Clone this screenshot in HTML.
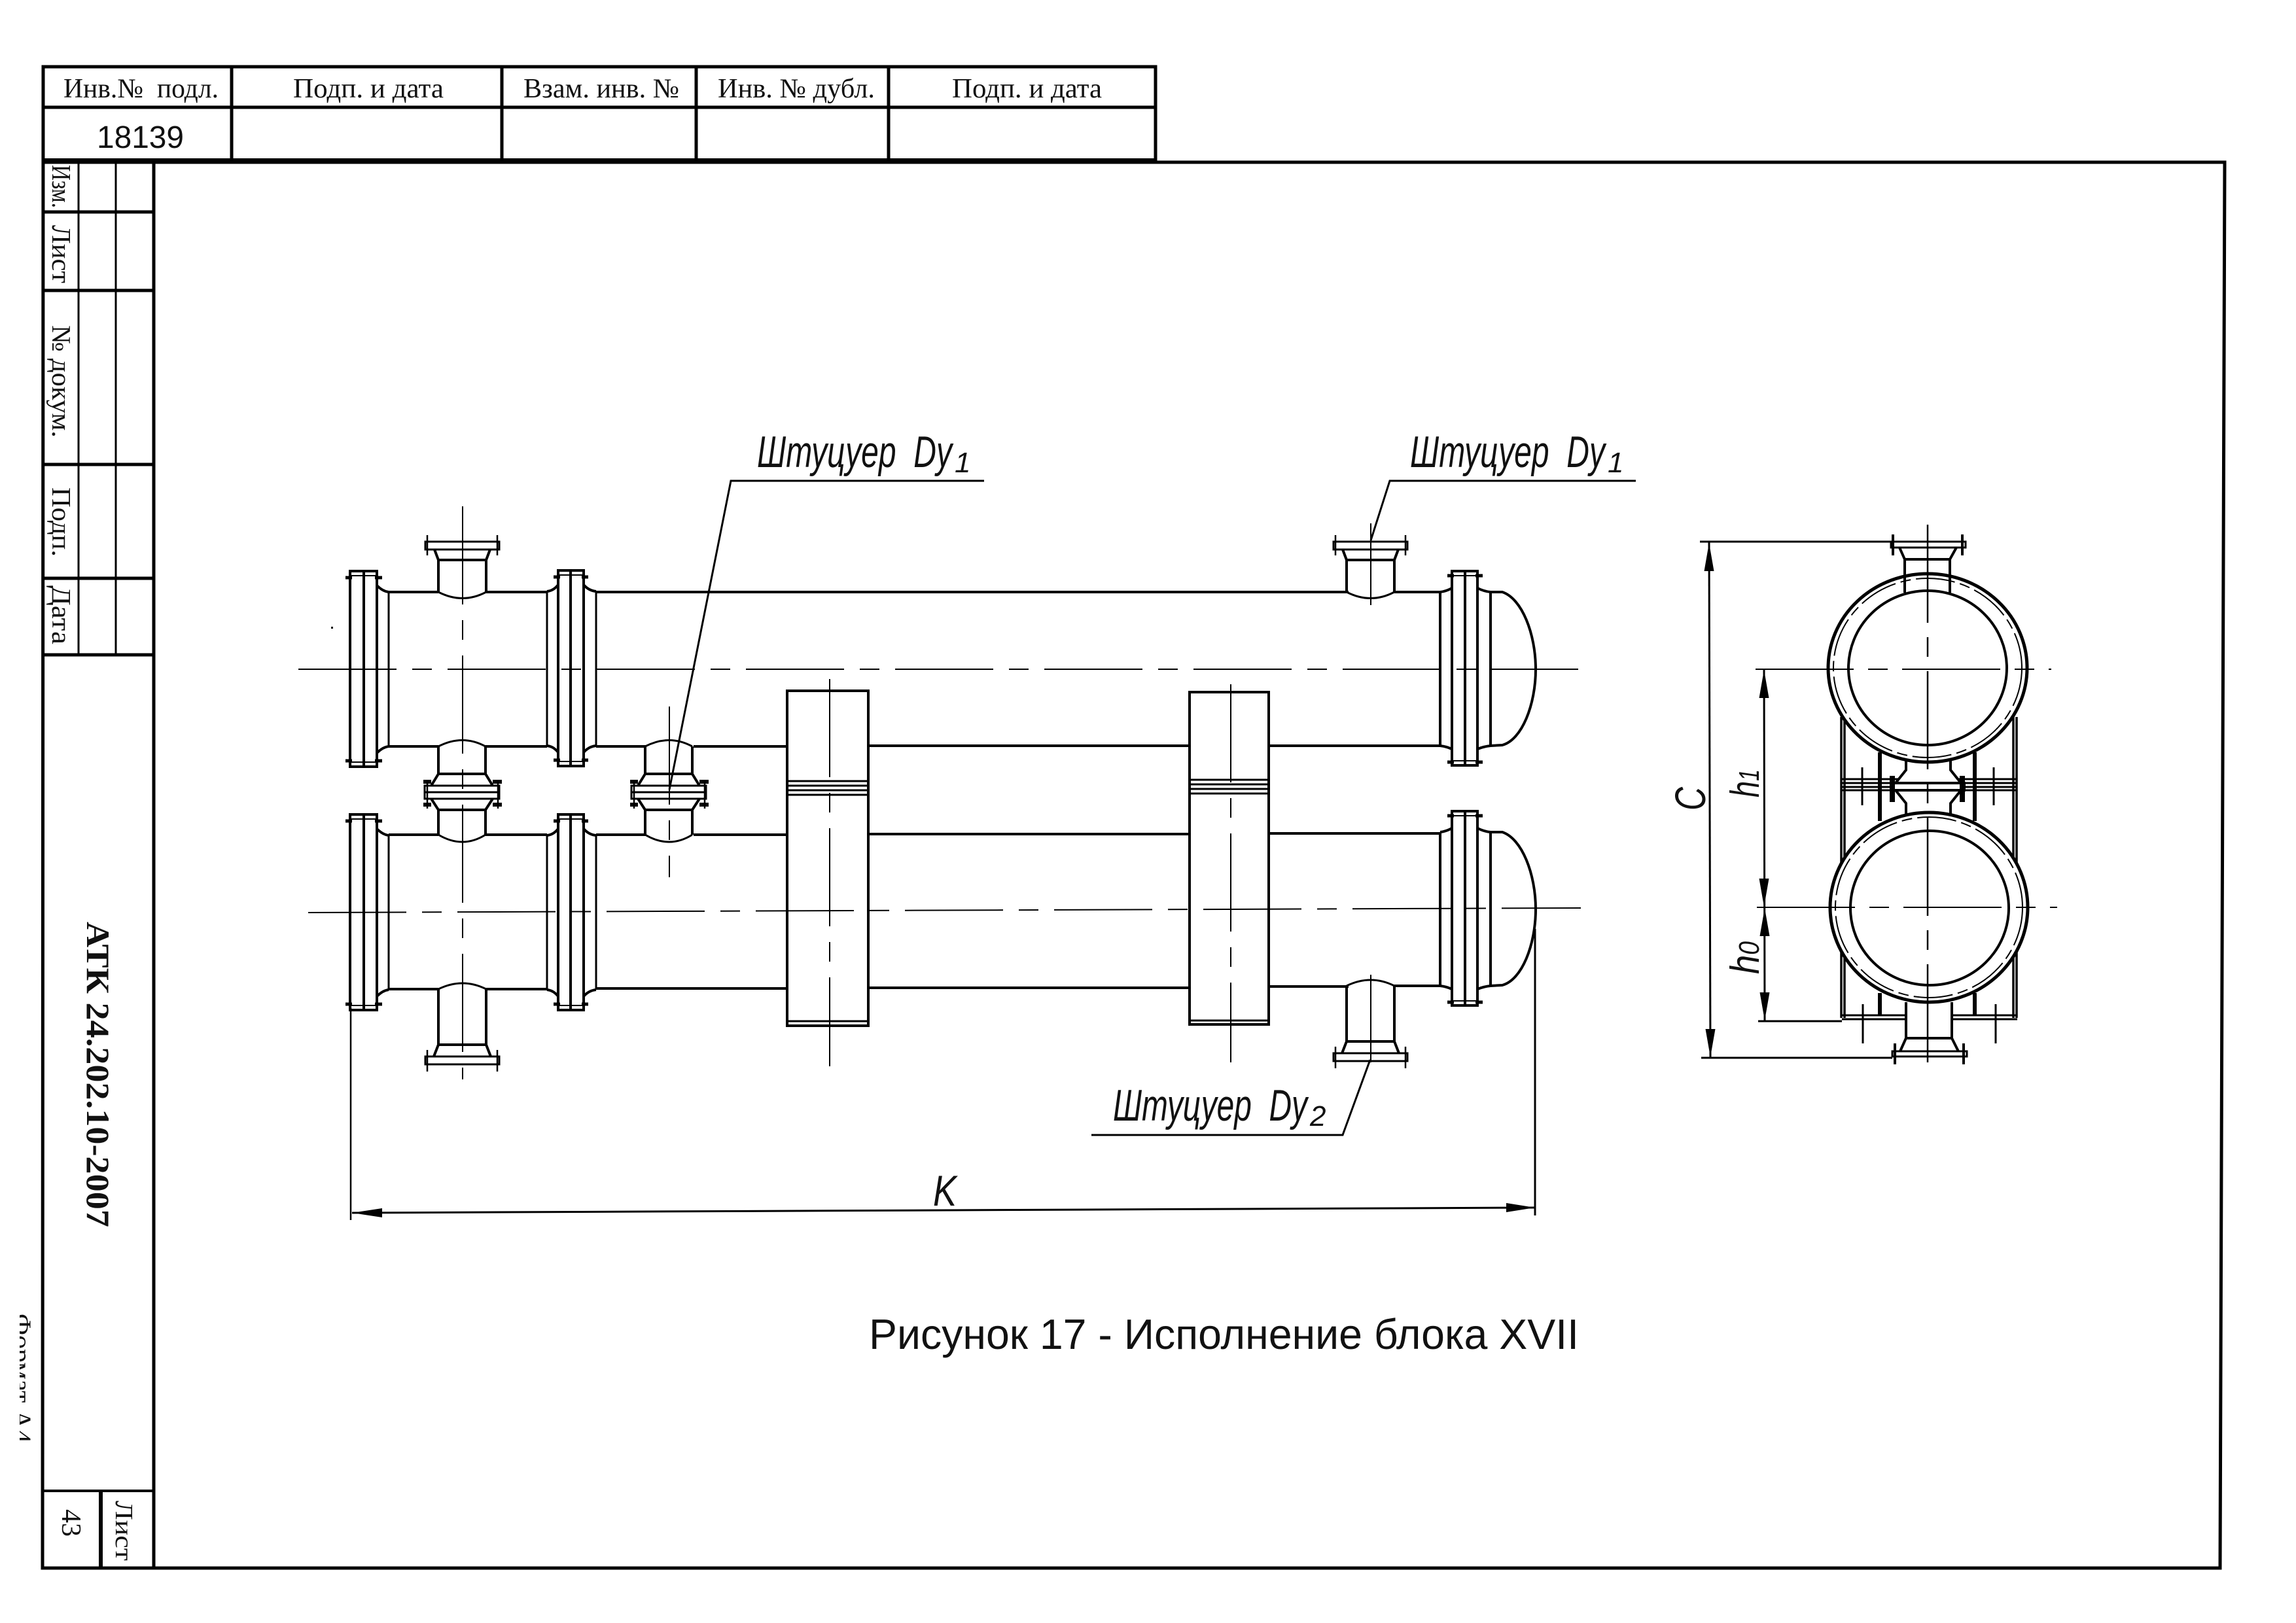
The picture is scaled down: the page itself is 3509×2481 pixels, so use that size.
<!DOCTYPE html>
<html lang="ru">
<head>
<meta charset="utf-8">
<title>Рисунок 17 - Исполнение блока XVII</title>
<style>
html,body{margin:0;padding:0;background:#fff;}
svg{display:block;}
.s{font-family:"Liberation Serif","Noto Serif CJK SC",serif;fill:#111;}
.a{font-family:"Liberation Sans","Noto Sans CJK SC",sans-serif;fill:#111;}
.i{font-family:"Liberation Sans","Noto Sans CJK SC",sans-serif;font-style:italic;fill:#111;}
</style>
</head>
<body>
<svg xmlns="http://www.w3.org/2000/svg" width="3509" height="2481" viewBox="0 0 3509 2481">
<rect width="3509" height="2481" fill="#fff"/>
<defs>
  <g id="lf" fill="none" stroke="#000" stroke-width="4">
    <path d="M535,-150 H576 V149 H535 Z"/>
    <path d="M556,-150 V149"/>
    <path d="M535,-143 H576 M535,142 H576" stroke-width="2"/>
    <path d="M528,-140 H538 M573,-140 H584 M528,140 H538 M573,140 H584" stroke-width="5"/>
    <path d="M576,-128 Q585,-119 594,-118 M576,128 Q585,119 594,118"/>
    <path d="M594,-118 V118" stroke-width="3"/>
  </g>
  <g id="mf" fill="none" stroke="#000" stroke-width="4">
    <path d="M853,-150 H892 V149 H853 Z"/>
    <path d="M872,-150 V149"/>
    <path d="M853,-143 H892 M853,142 H892" stroke-width="2"/>
    <path d="M846,-140 H856 M889,-140 H899 M846,140 H856 M889,140 H899" stroke-width="5"/>
    <path d="M836,-118 Q846,-119 853,-128 M892,-128 Q900,-119 911,-118 M836,118 Q846,119 853,128 M892,128 Q900,119 911,118"/>
    <path d="M836,-118 V118 M911,-118 V118" stroke-width="3"/>
  </g>
  <g id="rf" fill="none" stroke="#000" stroke-width="4">
    <path d="M2219,-150 H2258 V147 H2219 Z"/>
    <path d="M2239,-150 V147"/>
    <path d="M2219,-143 H2258 M2219,140 H2258" stroke-width="2"/>
    <path d="M2212,-143 H2222 M2255,-143 H2266 M2212,142 H2222 M2255,142 H2266" stroke-width="5"/>
    <path d="M2201,-118 Q2210,-119 2219,-124 M2258,-124 Q2268,-119 2278,-118 M2201,117 Q2210,118 2219,122 M2258,122 Q2268,118 2278,117"/>
    <path d="M2201,-118 V117 M2278,-118 V117"/>
    <path d="M2278,-118 L2296,-118 C2326,-108 2347,-54 2347,0 C2347,54 2326,108 2296,116 L2278,117" stroke-width="4"/>
  </g>
  <g id="nz" fill="none" stroke="#000" stroke-width="4">
    <path d="M-37,0 V-49 L-43,-65 M36,0 V-49 L42,-65 M-37,-49 H36"/>
    <path d="M-37,0 Q0,19 36,0" stroke-width="3"/>
    <path d="M-57,-77 H56 V-65 H-57 Z" stroke-width="3"/>
    <path d="M-54,-87 V-56 M53,-87 V-56" stroke-width="2.5"/>
  </g>
  <g id="nl" fill="none" stroke="#000" stroke-width="4">
    <path d="M-37,0 V85 L-44,103 M36,0 V85 L43,103 M-37,85 H36"/>
    <path d="M-37,0 Q0,-18 36,0" stroke-width="3"/>
    <path d="M-57,103 H56 V115 H-57 Z" stroke-width="3"/>
    <path d="M-54,93 V126 M53,93 V126" stroke-width="2.5"/>
  </g>
  <g id="mn" fill="none" stroke="#000" stroke-width="4">
    <path d="M-37,1141 V1183 L-48,1201 M35,1141 V1183 L46,1201 M-37,1183 H35"/>
    <path d="M-37,1141 Q0,1122 35,1141" stroke-width="3"/>
    <path d="M-58,1201 H56 V1221 H-58 Z" stroke-width="3"/>
    <path d="M-58,1211 H56" stroke-width="3"/>
    <path d="M-48,1221 L-37,1238 V1276 M46,1221 L35,1238 V1276 M-37,1238 H35"/>
    <path d="M-37,1276 Q0,1298 35,1276" stroke-width="3"/>
    <path d="M-54,1192 V1236 M54,1192 V1236" stroke-width="2.5"/>
    <path d="M-60,1195 H-48 M46,1195 H60 M-60,1230 H-48 M46,1230 H60" stroke-width="6"/>
  </g>
  <path id="ah" d="M0,0 L-7.5,43 L7.5,43 Z" fill="#000"/>
</defs>

<!-- Sheet frame -->
<g fill="none" stroke="#000" stroke-width="5">
  <path d="M66,248 H3400 L3393,2397 H65 L66,102 H1766 V248"/>
  <path d="M66,244 H1766" stroke-width="4"/>
  <path d="M235,248 V2398"/>
  <path d="M66,164 H1766"/>
  <path d="M354,102 V246 M767,102 V246 M1064,102 V246 M1358,102 V246"/>
  <path d="M66,324 H235 M66,444 H235 M66,710 H235 M66,884 H235 M66,1001 H235"/>
  <path d="M66,2279 H235" stroke-width="4"/>
  <path d="M154,2279 V2398" stroke-width="6"/>
  <path d="M120,246 V1001 M177,246 V1001" stroke-width="3"/>
</g>

<!-- Header text -->
<g class="s" font-size="42">
  <text x="97" y="149" textLength="237" lengthAdjust="spacingAndGlyphs">Инв.№&#160;&#160;подл.</text>
  <text x="448" y="149" textLength="230" lengthAdjust="spacingAndGlyphs">Подп. и дата</text>
  <text x="800" y="149" textLength="238" lengthAdjust="spacingAndGlyphs">Взам. инв. №</text>
  <text x="1097" y="149" textLength="240" lengthAdjust="spacingAndGlyphs">Инв. № дубл.</text>
  <text x="1455" y="149" textLength="229" lengthAdjust="spacingAndGlyphs">Подп. и дата</text>
</g>
<text class="a" x="148" y="226" font-size="48" textLength="133" lengthAdjust="spacingAndGlyphs">18139</text>

<!-- Rotated side text -->
<g class="s" font-size="41">
  <text transform="translate(80,252) rotate(90)" textLength="66" lengthAdjust="spacingAndGlyphs">Изм.</text>
  <text transform="translate(80,344) rotate(90)" textLength="89" lengthAdjust="spacingAndGlyphs">Лист</text>
  <text transform="translate(80,497) rotate(90)" textLength="172" lengthAdjust="spacingAndGlyphs">№ докум.</text>
  <text transform="translate(80,745) rotate(90)" textLength="106" lengthAdjust="spacingAndGlyphs">Подп.</text>
  <text transform="translate(80,895) rotate(90)" textLength="90" lengthAdjust="spacingAndGlyphs">Дата</text>
  <text transform="translate(177,2294) rotate(90)" textLength="92" lengthAdjust="spacingAndGlyphs" font-size="38">Лист</text>
  <text transform="translate(95,2307) rotate(90)" textLength="42" lengthAdjust="spacingAndGlyphs" font-size="42">43</text>
  <text transform="translate(133,1409) rotate(90)" textLength="467" lengthAdjust="spacingAndGlyphs" font-size="50" font-weight="bold">АТК 24.202.10-2007</text>
  <text transform="translate(20,2008) rotate(90)" textLength="198" lengthAdjust="spacingAndGlyphs" font-size="40">Формат А4</text>
</g>
<rect x="0" y="1990" width="30" height="240" fill="#fff"/>

<!-- Supports (front view) -->
<g fill="#fff" stroke="#000" stroke-width="4">
  <path d="M1203,1056 H1327 V1568 H1203 Z"/>
  <path d="M1818,1058 H1939 V1566 H1818 Z"/>
</g>
<g fill="none" stroke="#000" stroke-width="3">
  <path d="M1203,1194 H1327 M1203,1201 H1327 M1203,1208 H1327 M1203,1215 H1327"/>
  <path d="M1818,1192 H1939 M1818,1199 H1939 M1818,1206 H1939 M1818,1213 H1939"/>
  <path d="M1203,1561 H1327 M1818,1560 H1939"/>
</g>

<!-- Tube lines -->
<g fill="none" stroke="#000" stroke-width="4">
  <path d="M594,905 H670 M742,905 H836 M911,905 H2061 M2129,905 H2201"/>
  <path d="M594,1141 H670 M742,1141 H836 M911,1141 H987 M1060,1141 H1203 M1327,1140 H1818 M1939,1140 H2201"/>
  <path d="M594,1276 H670 M742,1276 H836 M911,1276 H987 M1060,1276 H1203 M1327,1275 H1818 M1939,1274 H2201"/>
  <path d="M594,1512 H670 M742,1512 H836 M911,1511 H1203 M1327,1510 H1818 M1939,1508 H2061 M2129,1507 H2201"/>
</g>

<use href="#lf" transform="translate(0,1023)"/>
<use href="#lf" transform="translate(0,1395)"/>
<use href="#mf" transform="translate(0,1022)"/>
<use href="#mf" transform="translate(0,1395)"/>
<use href="#rf" transform="translate(0,1023)"/>
<use href="#rf" transform="translate(0,1390)"/>

<use href="#nz" transform="translate(707,905)"/>
<use href="#nz" transform="translate(2095,905)"/>
<use href="#nl" transform="translate(707,1512)"/>
<use href="#nl" transform="translate(2095,1507)"/>
<use href="#mn" transform="translate(707,0)"/>
<use href="#mn" transform="translate(1023,0)"/>

<!-- Centre lines, front view -->
<g fill="none" stroke="#000" stroke-width="2" stroke-dasharray="150 24 30 24">
  <path d="M456,1023 L2412,1023"/>
  <path d="M471,1395 L2416,1388"/>
  <path d="M707,774 V1650"/>
  <path d="M1023,1080 V1341"/>
  <path d="M1268,1038 V1630"/>
  <path d="M1881,1046 V1624"/>
  <path d="M2095,800 V925"/>
  <path d="M2095,1490 V1624"/>
</g>

<!-- Leaders -->
<g fill="none" stroke="#000">
  <path d="M1504,735 H1117 L1023,1207" stroke-width="3"/>
  <path d="M2500,735 H2124 L2095,826" stroke-width="3"/>
  <path d="M1668,1735 H2052 L2094,1620" stroke-width="3"/>
</g>
<text class="i" x="1157" y="714" font-size="68" textLength="298" lengthAdjust="spacingAndGlyphs">Штуцуер&#160;&#160;Dy</text>
<text class="i" x="1459" y="722" font-size="44">1</text>
<text class="i" x="2155" y="714" font-size="68" textLength="298" lengthAdjust="spacingAndGlyphs">Штуцуер&#160;&#160;Dy</text>
<text class="i" x="2457" y="722" font-size="44">1</text>
<text class="i" x="1701" y="1713" font-size="68" textLength="297" lengthAdjust="spacingAndGlyphs">Штуцуер&#160;&#160;Dy</text>
<text class="i" x="2002" y="1721" font-size="44">2</text>

<!-- K dimension -->
<g fill="none" stroke="#000">
  <path d="M536,1540 V1865" stroke-width="2.5"/>
  <path d="M2346,1420 V1858" stroke-width="3"/>
  <path d="M538,1854 L2346,1846" stroke-width="3"/>
</g>
<path d="M538,1854 L584,1847 L584,1861 Z" fill="#000"/>
<path d="M2346,1846 L2302,1839 L2302,1853 Z" fill="#000"/>
<text class="i" x="1426" y="1843" font-size="66" textLength="36" lengthAdjust="spacingAndGlyphs">K</text>

<!-- Caption -->
<text class="a" x="1328" y="2062" font-size="65" textLength="1085" lengthAdjust="spacingAndGlyphs">Рисунок 17 - Исполнение блока XVII</text>

<!-- Side view: supports -->
<g fill="none" stroke="#000">
  <path d="M2814,1096 V1556 M2819,1096 V1556 M3077,1096 V1556 M3082,1096 V1556" stroke-width="3.5"/>
  <path d="M2873,1150 V1255 M3018,1150 V1255 M2873,1518 V1553 M3018,1518 V1553" stroke-width="6"/>
  <path d="M2815,1191 H3081 M2815,1197 H3081 M2815,1203 H3081 M2815,1208 H3081" stroke-width="3"/>
  <path d="M2815,1552 H2913 M2815,1558 H2913 M2983,1552 H3083 M2983,1558 H3083" stroke-width="3"/>
  <path d="M2846,1173 V1231 M3047,1173 V1231 M2847,1535 V1595 M3050,1535 V1595" stroke-width="3"/>
</g>

<!-- Side view: middle nozzle -->
<g fill="#fff" stroke="#000" stroke-width="4">
  <path d="M2913,1160 L2913,1177 L2897,1197 H2997 L2981,1177 V1160 Z"/>
  <path d="M2897,1208 L2913,1228 V1246 H2981 V1228 L2997,1208 Z"/>
  <path d="M2890,1197 H3002 V1208 H2890 Z"/>
</g>
<path d="M2892,1186 V1226 M2999,1186 V1226" stroke="#000" stroke-width="8" fill="none"/>

<!-- Side view: rings -->
<g fill="#fff" stroke="#000" stroke-width="5">
  <ellipse cx="2946" cy="1021" rx="152" ry="144"/>
  <ellipse cx="2948" cy="1387" rx="151" ry="145"/>
</g>
<g fill="none" stroke="#000" stroke-width="2" stroke-dasharray="60 8 16 8">
  <ellipse cx="2946" cy="1021" rx="144" ry="137"/>
  <ellipse cx="2948" cy="1387" rx="143" ry="138"/>
</g>
<g fill="none" stroke="#000" stroke-width="4">
  <ellipse cx="2946" cy="1021" rx="121" ry="118"/>
  <ellipse cx="2949" cy="1388" rx="121" ry="118"/>
</g>

<!-- Side view: top and bottom nozzle -->
<g fill="none" stroke="#000" stroke-width="4">
  <path d="M2911,906 V855 L2903,837 M2980,906 V855 L2990,837 M2911,855 H2980"/>
  <path d="M2890,828 H3004 V837 H2890 Z" stroke-width="3"/>
  <path d="M2893,817 V849 M2999,817 V849" stroke-width="4"/>
  <path d="M2913,1532 V1587 L2904,1607 M2983,1532 V1587 L2993,1607 M2913,1587 H2983"/>
  <path d="M2892,1607 H3006 V1615 H2892 Z" stroke-width="3"/>
  <path d="M2896,1595 V1627 M3001,1595 V1627" stroke-width="4"/>
</g>

<!-- Side view: centre lines -->
<g fill="none" stroke="#000" stroke-width="2" stroke-dasharray="150 22 30 22">
  <path d="M2683,1023 H3135"/>
  <path d="M2685,1387 H3144"/>
  <path d="M2946,802 V1641" stroke-width="2.5"/>
</g>

<!-- Side view: dimensions -->
<g fill="none" stroke="#000" stroke-width="3">
  <path d="M2598,828 H2890"/>
  <path d="M2600,1617 H2892"/>
  <path d="M2687,1561 H2815"/>
  <path d="M2612,828 L2614,1617"/>
  <path d="M2696,1023 L2697,1561"/>
</g>
<use href="#ah" transform="translate(2612,830)"/>
<path d="M2614,1616 L2606.5,1573 L2621.5,1573 Z" fill="#000"/>
<use href="#ah" transform="translate(2696,1024)"/>
<path d="M2696,1386 L2688.5,1343 L2703.5,1343 Z" fill="#000"/>
<use href="#ah" transform="translate(2697,1388)"/>
<path d="M2697,1560 L2689.5,1517 L2704.5,1517 Z" fill="#000"/>
<text class="i" transform="translate(2606,1239) rotate(-90)" font-size="66" textLength="36" lengthAdjust="spacingAndGlyphs">C</text>
<text class="i" transform="translate(2688,1219) rotate(-90)" font-size="62" textLength="43" lengthAdjust="spacingAndGlyphs">h<tspan font-size="44">1</tspan></text>
<text class="i" transform="translate(2688,1489) rotate(-90)" font-size="62" textLength="50" lengthAdjust="spacingAndGlyphs">h<tspan font-size="44">0</tspan></text>

<rect x="506" y="958" width="3" height="3" fill="#000"/>
</svg>
</body>
</html>
